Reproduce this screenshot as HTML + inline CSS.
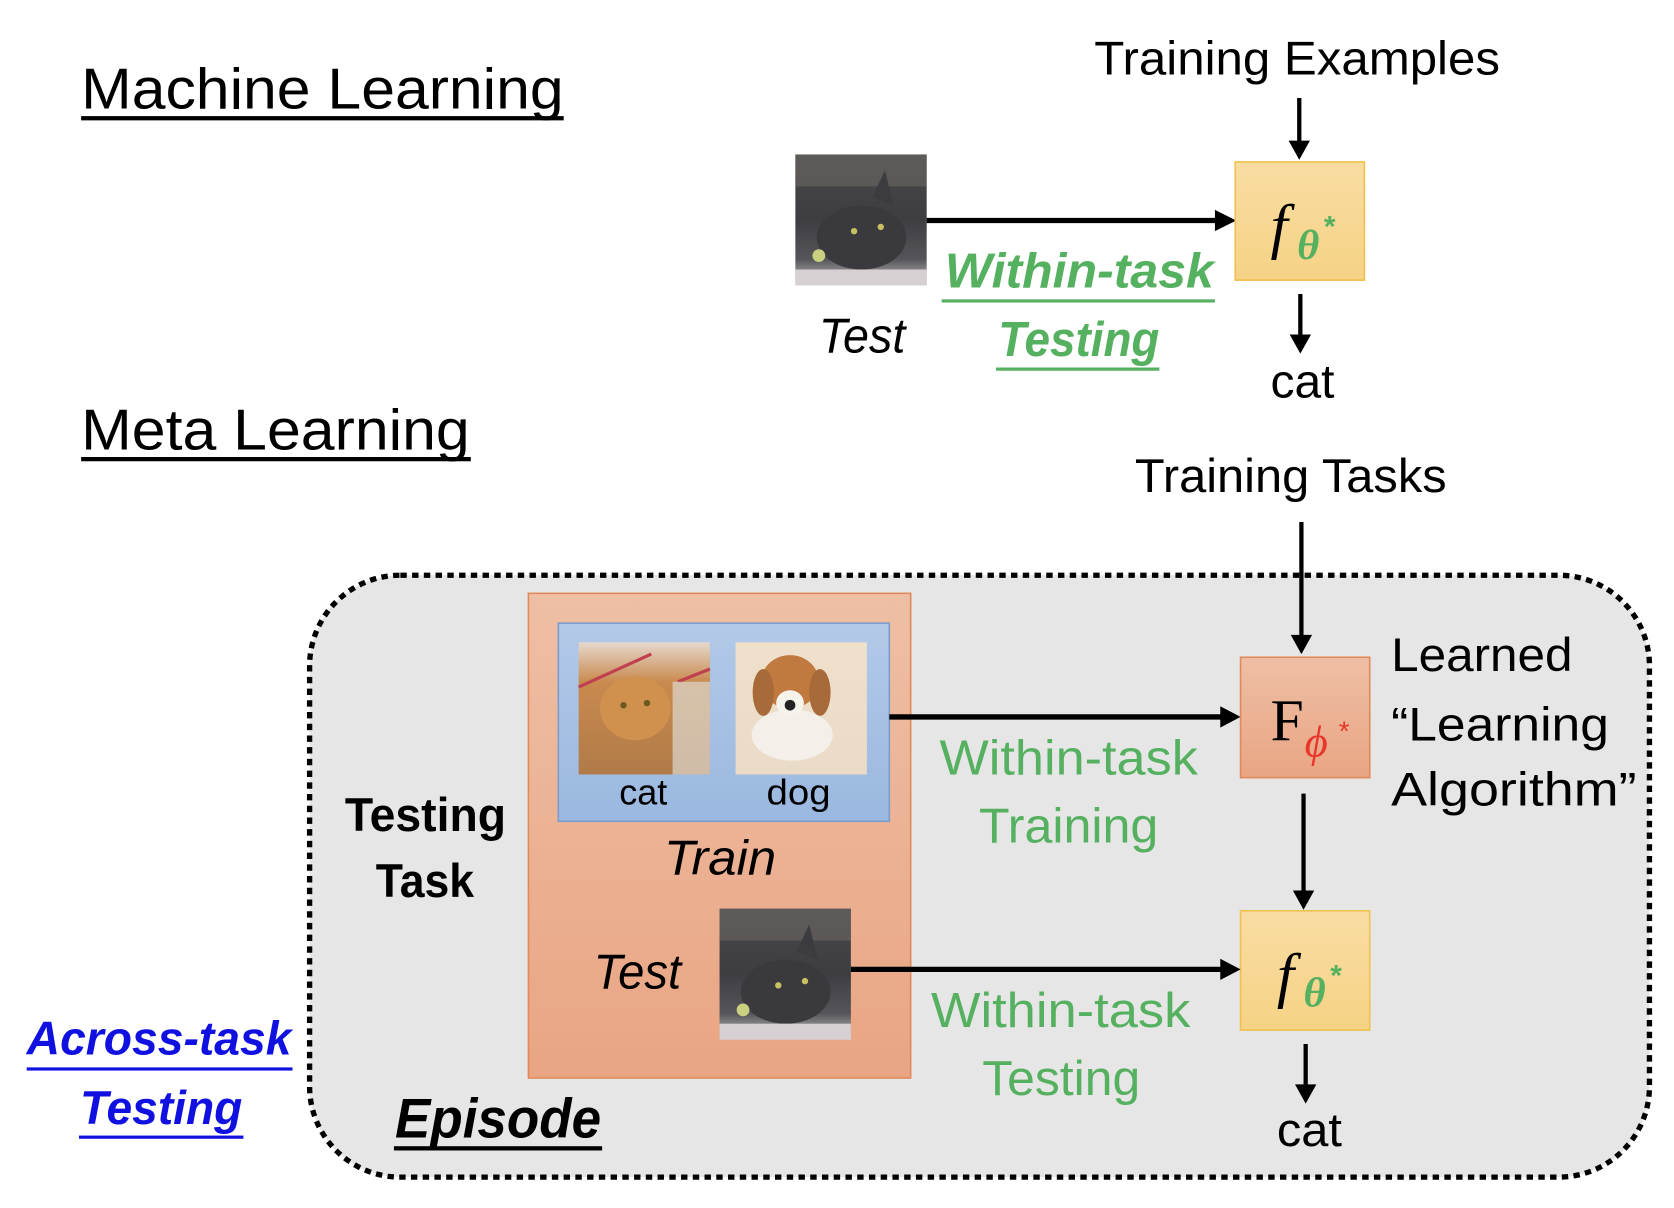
<!DOCTYPE html>
<html><head><meta charset="utf-8"><style>html,body{margin:0;padding:0;background:#fff;}svg{display:block}</style></head>
<body>
<svg width="1674" height="1208" viewBox="0 0 1568 1134" preserveAspectRatio="none" xmlns="http://www.w3.org/2000/svg" font-family="Liberation Sans, sans-serif">
<defs>
<linearGradient id="gy" x1="0" y1="0" x2="0" y2="1"><stop offset="0" stop-color="#f8dda3"/><stop offset="1" stop-color="#f6d285"/></linearGradient>
<linearGradient id="go" x1="0" y1="0" x2="0" y2="1"><stop offset="0" stop-color="#eebfa5"/><stop offset="1" stop-color="#e9a583"/></linearGradient>
<linearGradient id="gb" x1="0" y1="0" x2="0" y2="1"><stop offset="0" stop-color="#b3c9e8"/><stop offset="1" stop-color="#9ab8e0"/></linearGradient>
<linearGradient id="gcat" x1="0" y1="0" x2="0" y2="1"><stop offset="0" stop-color="#4a4a4a"/><stop offset="0.5" stop-color="#3d3d42"/><stop offset="0.8" stop-color="#55555a"/><stop offset="1" stop-color="#c9c4c4"/></linearGradient>
<linearGradient id="gora" x1="0" y1="0" x2="0" y2="1"><stop offset="0" stop-color="#e6d8cc"/><stop offset="0.3" stop-color="#c98a4e"/><stop offset="1" stop-color="#b07a48"/></linearGradient>
<linearGradient id="gdog" x1="0" y1="0" x2="0" y2="1"><stop offset="0" stop-color="#efe0cc"/><stop offset="1" stop-color="#eadbc6"/></linearGradient>
<g id="graycat">
<rect x="0" y="0" width="123" height="123" fill="url(#gcat)"/>
<rect x="0" y="0" width="123" height="30" fill="#6a6663" opacity="0.6"/>
<ellipse cx="62" cy="78" rx="42" ry="30" fill="#3a3a3e"/>
<polygon points="72,40 84,15 92,48" fill="#3c3c40"/>
<circle cx="55" cy="72" r="3" fill="#c8c060"/><circle cx="80" cy="68" r="3" fill="#c8c060"/>
<circle cx="22" cy="95" r="6" fill="#c9d080"/>
<rect x="0" y="108" width="123" height="15" fill="#d6d0d2"/>
</g>
</defs>

<!-- Machine Learning -->
<text x="76" y="102" font-size="54" textLength="452" lengthAdjust="spacingAndGlyphs">Machine Learning</text>
<rect x="76" y="109" width="452" height="4" fill="#000"/>
<text x="1025" y="70" font-size="44" textLength="380" lengthAdjust="spacingAndGlyphs">Training Examples</text>
<line x1="1217" y1="92" x2="1217" y2="134" stroke="#000" stroke-width="4"/>
<polygon points="1207,132 1227,132 1217,150" fill="#000"/>
<use href="#graycat" x="745" y="145"/>
<line x1="868" y1="207" x2="1140" y2="207" stroke="#000" stroke-width="5"/>
<polygon points="1138,197 1158,207 1138,217" fill="#000"/>
<rect x="1157" y="152" width="121" height="111" fill="url(#gy)" stroke="#f0c050" stroke-width="1.5"/>
<text x="1190" y="232" font-size="58" font-style="italic" font-family="Liberation Serif, serif">f</text>
<text x="1215" y="243" font-size="40" font-style="italic" font-weight="bold" fill="#55b060" font-family="Liberation Serif, serif">θ</text>
<text x="1240" y="222" font-size="28" font-weight="bold" fill="#55b060">*</text>
<text x="885" y="270" font-size="46" font-weight="bold" font-style="italic" fill="#55b060" textLength="252" lengthAdjust="spacingAndGlyphs">Within-task</text>
<rect x="882" y="281" width="256" height="3" fill="#55b060"/>
<text x="935" y="334" font-size="46" font-weight="bold" font-style="italic" fill="#55b060" textLength="151" lengthAdjust="spacingAndGlyphs">Testing</text>
<rect x="933" y="345" width="153" height="3" fill="#55b060"/>
<text x="767" y="331" font-size="46" font-style="italic" textLength="81" lengthAdjust="spacingAndGlyphs">Test</text>
<line x1="1218" y1="276" x2="1218" y2="316" stroke="#000" stroke-width="4"/>
<polygon points="1208,314 1228,314 1218,332" fill="#000"/>
<text x="1190" y="373" font-size="44" textLength="60" lengthAdjust="spacingAndGlyphs">cat</text>

<!-- Meta Learning -->
<text x="76" y="422" font-size="54" textLength="364" lengthAdjust="spacingAndGlyphs">Meta Learning</text>
<rect x="76" y="429" width="365" height="4" fill="#000"/>
<text x="1063" y="462" font-size="44" textLength="292" lengthAdjust="spacingAndGlyphs">Training Tasks</text>

<!-- Episode -->
<rect x="290" y="540" width="1255" height="565" rx="85" ry="85" fill="#e6e6e6" stroke="#000" stroke-width="5" stroke-dasharray="6 5"/>
<line x1="1219" y1="490" x2="1219" y2="598" stroke="#000" stroke-width="4"/>
<polygon points="1209,596 1229,596 1219,614" fill="#000"/>

<rect x="495" y="557" width="358" height="455" fill="url(#go)" stroke="#e08a5c" stroke-width="1.5"/>
<rect x="523" y="585" width="310" height="186" fill="url(#gb)" stroke="#7c9ccc" stroke-width="1.5"/>
<!-- orange cat -->
<rect x="542" y="603" width="123" height="124" fill="url(#gora)"/>
<line x1="542" y1="645" x2="610" y2="614" stroke="#c04050" stroke-width="3"/>
<line x1="635" y1="640" x2="665" y2="628" stroke="#c04050" stroke-width="3"/>
<rect x="630" y="640" width="35" height="87" fill="#ddd8d0" opacity="0.7"/>
<ellipse cx="595" cy="665" rx="33" ry="30" fill="#d0904e"/>
<circle cx="584" cy="662" r="3" fill="#6a5a20"/><circle cx="606" cy="660" r="3" fill="#6a5a20"/>
<!-- dog -->
<rect x="689" y="603" width="123" height="124" fill="url(#gdog)"/>
<ellipse cx="740" cy="640" rx="27" ry="25" fill="#c07a40"/>
<ellipse cx="715" cy="650" rx="10" ry="22" fill="#a86a38"/>
<ellipse cx="768" cy="650" rx="10" ry="22" fill="#a86a38"/>
<ellipse cx="742" cy="690" rx="38" ry="24" fill="#f4efe8"/>
<ellipse cx="740" cy="660" rx="13" ry="12" fill="#f6f2ec"/>
<circle cx="740" cy="662" r="5" fill="#222"/>
<text x="580" y="755" font-size="34" textLength="45" lengthAdjust="spacingAndGlyphs">cat</text>
<text x="718" y="755" font-size="34" textLength="60" lengthAdjust="spacingAndGlyphs">dog</text>
<text x="622" y="821" font-size="46" font-style="italic" textLength="105" lengthAdjust="spacingAndGlyphs">Train</text>
<text x="556" y="928" font-size="46" font-style="italic" textLength="82" lengthAdjust="spacingAndGlyphs">Test</text>
<use href="#graycat" x="674" y="853"/>

<text x="323" y="780" font-size="44" font-weight="bold" textLength="151" lengthAdjust="spacingAndGlyphs">Testing</text>
<text x="352" y="842" font-size="44" font-weight="bold" textLength="92" lengthAdjust="spacingAndGlyphs">Task</text>

<line x1="833" y1="673" x2="1145" y2="673" stroke="#000" stroke-width="5"/>
<polygon points="1143,663 1162,673 1143,683" fill="#000"/>
<rect x="1162" y="617" width="121" height="113" fill="url(#go)" stroke="#e08a5c" stroke-width="1.5"/>
<text x="1190" y="695" font-size="56" font-family="Liberation Serif, serif">F</text>
<text x="1222" y="710" font-size="42" font-style="italic" fill="#e8372a" font-family="Liberation Serif, serif">ϕ</text>
<text x="1254" y="695" font-size="26" fill="#e8372a">*</text>

<text x="880" y="727" font-size="46" fill="#55b060" textLength="242" lengthAdjust="spacingAndGlyphs">Within-task</text>
<text x="917" y="791" font-size="46" fill="#55b060" textLength="168" lengthAdjust="spacingAndGlyphs">Training</text>

<text x="1303" y="630" font-size="44" textLength="170" lengthAdjust="spacingAndGlyphs">Learned</text>
<text x="1303" y="695" font-size="44" textLength="204" lengthAdjust="spacingAndGlyphs">“Learning</text>
<text x="1303" y="756" font-size="44" textLength="230" lengthAdjust="spacingAndGlyphs">Algorithm”</text>

<line x1="1221" y1="745" x2="1221" y2="838" stroke="#000" stroke-width="4"/>
<polygon points="1211,836 1231,836 1221,854" fill="#000"/>
<rect x="1162" y="855" width="121" height="112" fill="url(#gy)" stroke="#f0c050" stroke-width="1.5"/>
<text x="1196" y="935" font-size="58" font-style="italic" font-family="Liberation Serif, serif">f</text>
<text x="1221" y="945" font-size="40" font-style="italic" font-weight="bold" fill="#55b060" font-family="Liberation Serif, serif">θ</text>
<text x="1246" y="925" font-size="28" font-weight="bold" fill="#55b060">*</text>

<line x1="797" y1="910" x2="1145" y2="910" stroke="#000" stroke-width="5"/>
<polygon points="1143,900 1162,910 1143,920" fill="#000"/>
<text x="872" y="964" font-size="46" fill="#55b060" textLength="243" lengthAdjust="spacingAndGlyphs">Within-task</text>
<text x="920" y="1028" font-size="46" fill="#55b060" textLength="148" lengthAdjust="spacingAndGlyphs">Testing</text>

<line x1="1223" y1="980" x2="1223" y2="1020" stroke="#000" stroke-width="4"/>
<polygon points="1213,1018 1233,1018 1223,1036" fill="#000"/>
<text x="1196" y="1076" font-size="44" textLength="61" lengthAdjust="spacingAndGlyphs">cat</text>

<text x="370" y="1068" font-size="52" font-weight="bold" font-style="italic" textLength="193" lengthAdjust="spacingAndGlyphs">Episode</text>
<rect x="369" y="1076" width="195" height="4" fill="#000"/>

<text x="25" y="990" font-size="44" font-weight="bold" font-style="italic" fill="#1010e0" textLength="248" lengthAdjust="spacingAndGlyphs">Across-task</text>
<rect x="25" y="1002" width="249" height="3" fill="#1010e0"/>
<text x="75" y="1055" font-size="44" font-weight="bold" font-style="italic" fill="#1010e0" textLength="152" lengthAdjust="spacingAndGlyphs">Testing</text>
<rect x="74" y="1066" width="154" height="3" fill="#1010e0"/>
</svg>
</body></html>
